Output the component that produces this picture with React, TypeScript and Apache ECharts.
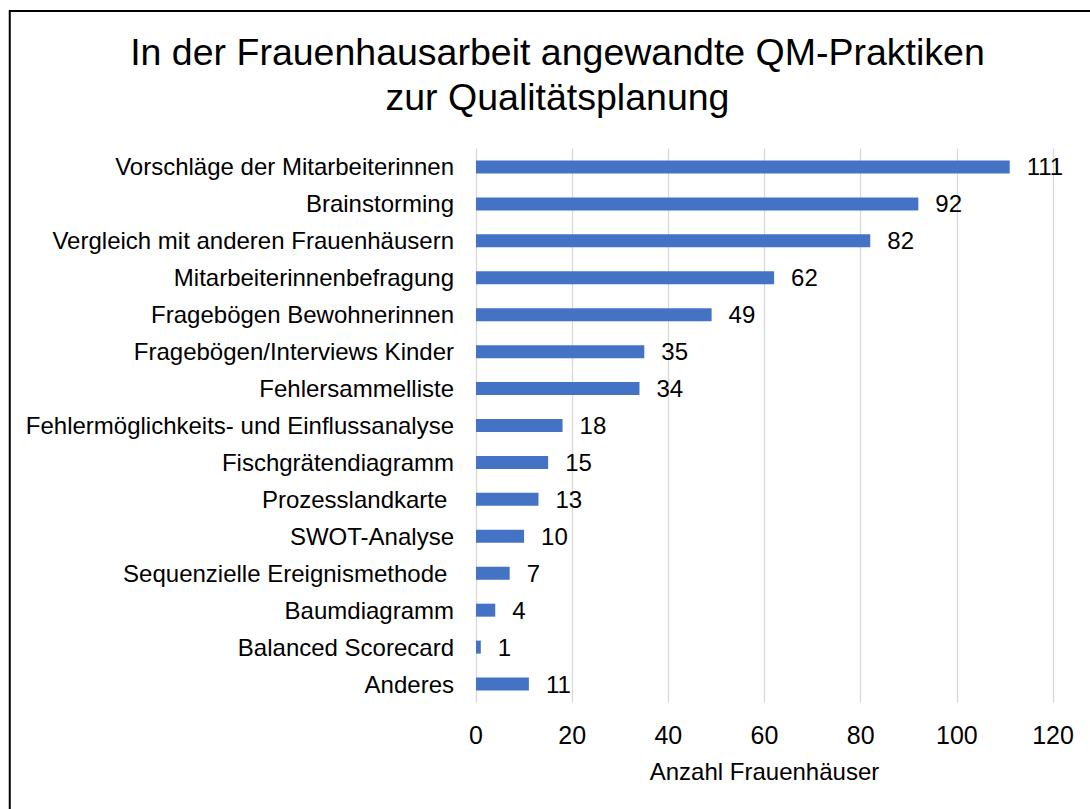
import React, { useEffect, useRef } from "react";
import * as echarts from "echarts";

const categories = [
  "Vorschläge der Mitarbeiterinnen",
  "Brainstorming",
  "Vergleich mit anderen Frauenhäusern",
  "Mitarbeiterinnenbefragung",
  "Fragebögen Bewohnerinnen",
  "Fragebögen/Interviews Kinder",
  "Fehlersammelliste",
  "Fehlermöglichkeits- und Einflussanalyse",
  "Fischgrätendiagramm",
  "Prozesslandkarte ",
  "SWOT-Analyse",
  "Sequenzielle Ereignismethode ",
  "Baumdiagramm",
  "Balanced Scorecard",
  "Anderes",
];
const values = [111, 92, 82, 62, 49, 35, 34, 18, 15, 13, 10, 7, 4, 1, 11];
const titleText = "In der Frauenhausarbeit angewandte QM-Praktiken\nzur Qualitätsplanung";
const axisName = "Anzahl Frauenhäuser";

const FONT = "'Liberation Sans', Arial, Helvetica, sans-serif";

export default function App() {
  const ref = useRef<HTMLDivElement>(null);
  useEffect(() => {
    if (!ref.current) return;
    const chart = echarts.init(ref.current, undefined, { renderer: "svg" });
    chart.setOption({
      animation: false,
      backgroundColor: "#ffffff",
      textStyle: { fontFamily: FONT },
      title: {
        text: titleText,
        left: 557.5,
        top: 29,
        padding: 0,
        textAlign: "center",
        textStyle: {
          fontFamily: FONT,
          fontSize: 37.5,
          fontWeight: "normal",
          color: "#000000",
          lineHeight: 45,
        },
      },
      graphic: [
        {
          type: "rect",
          shape: { x: 9.75, y: 11, width: 1300, height: 1000 },
          style: { fill: "none", stroke: "#000000", lineWidth: 2 },
          silent: true,
          z: 100,
        },
      ],
      grid: { left: 476, right: 37, top: 148.5, bottom: 106.5, containLabel: false },
      xAxis: {
        type: "value",
        min: 0,
        max: 120,
        interval: 20,
        name: axisName,
        nameLocation: "middle",
        nameGap: 57,
        nameTextStyle: { fontFamily: FONT, fontSize: 24, color: "#000000" },
        axisLine: { show: false },
        axisTick: { show: false },
        axisLabel: { fontFamily: FONT, fontSize: 25, color: "#000000", margin: 20 },
        splitLine: { show: true, lineStyle: { color: "#d9d9d9", width: 1.3 } },
      },
      yAxis: {
        type: "category",
        data: categories,
        inverse: true,
        axisLine: { show: false },
        axisTick: { show: false },
        axisLabel: { fontFamily: FONT, fontSize: 24, color: "#000000", margin: 22 },
        splitLine: { show: false },
      },
      series: [
        {
          type: "bar",
          data: values,
          barWidth: 13,
          itemStyle: { color: "#4472C4" },
          label: {
            show: true,
            position: "right",
            distance: 17,
            fontFamily: FONT,
            fontSize: 24,
            color: "#000000",
          },
        },
      ],
    });
    return () => chart.dispose();
  }, []);
  return (
    <div
      ref={ref}
      style={{ position: "absolute", left: 0, top: 0, width: 1090, height: 809, background: "#fff" }}
    />
  );
}
